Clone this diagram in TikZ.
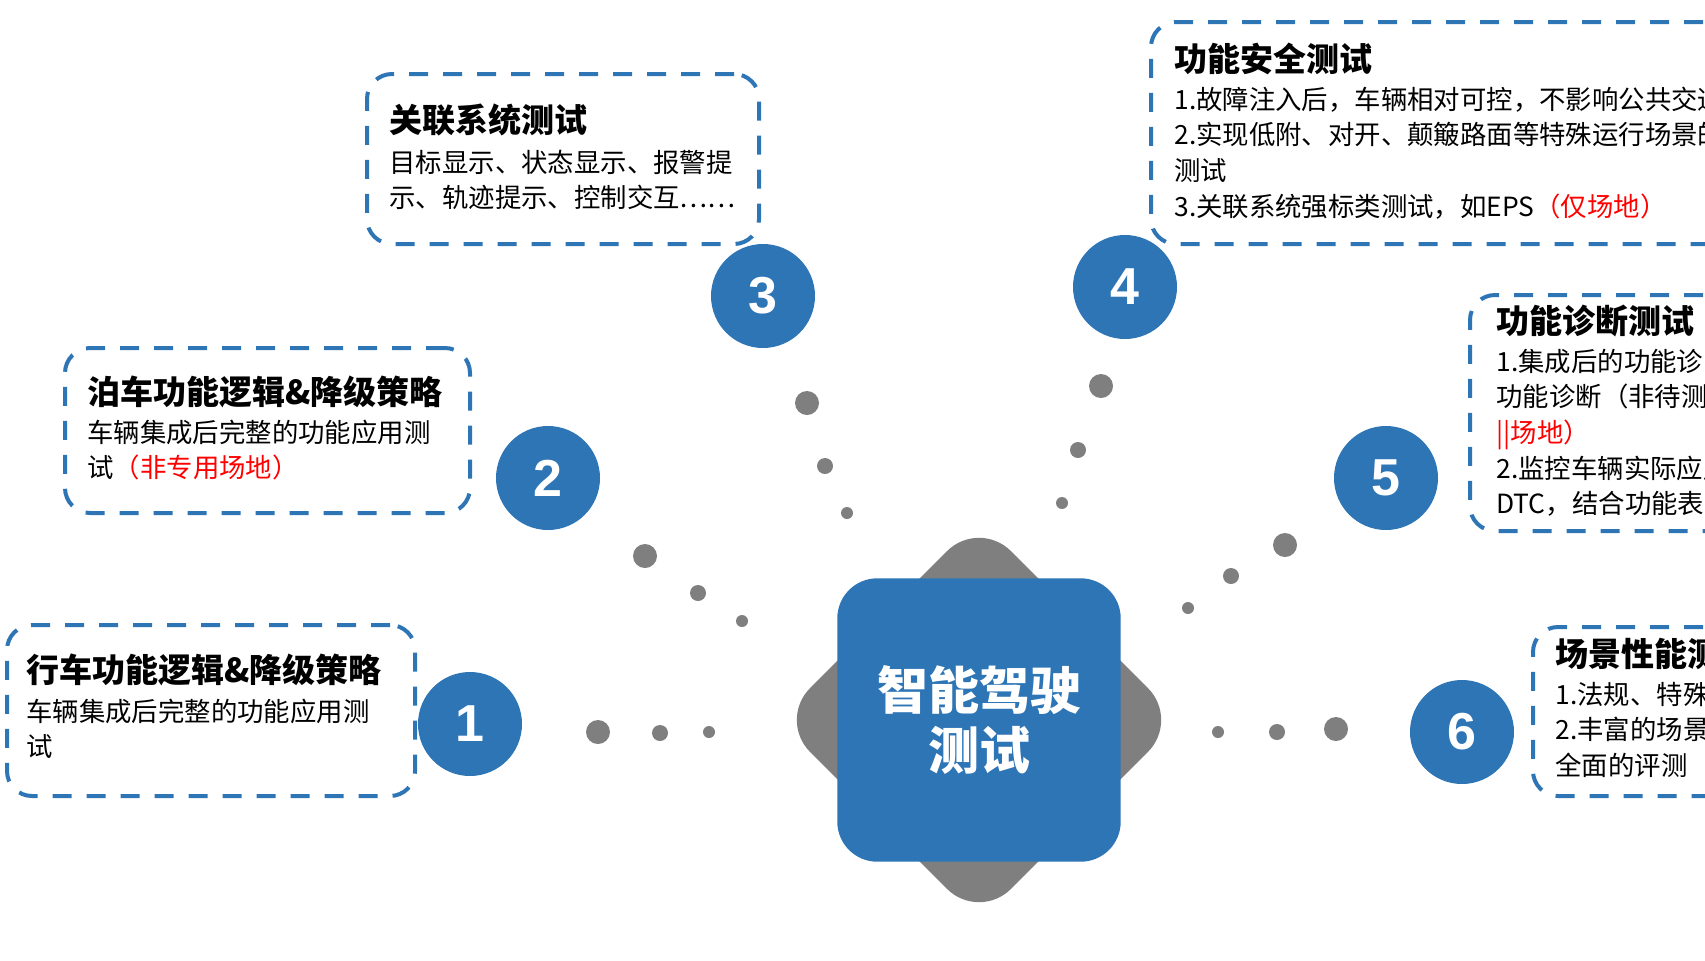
\documentclass[tikz,border=0pt]{standalone}
\usepackage{fontspec}
\setmainfont{Noto Sans CJK SC}
\newfontfamily\numfont{Liberation Sans}
\usepackage{tikz}
\usepackage{xcolor}
\usetikzlibrary{shapes.geometric, positioning}
\definecolor{mainblue}{RGB}{46,117,182}
\definecolor{dotgray}{RGB}{127,127,127}

\begin{document}
\begin{tikzpicture}[x=0.5pt, y=-0.5pt,
    tbox/.style={rectangle, draw=mainblue, line width=2pt, dash pattern=on 9.5pt off 7.5pt, rounded corners=12.5pt, inner sep=0pt, anchor=north west},
    ttl/.style={anchor=west, inner sep=0pt, font=\fontsize{16.5}{20}\selectfont\bfseries},
    txt/.style={anchor=north west, inner sep=0pt, align=left, font=\fontsize{13.2}{17.8}\selectfont},
    num/.style={circle, fill=mainblue, minimum size=52pt, inner sep=0pt, text=white, font=\numfont\fontsize{26}{26}\selectfont\bfseries},
    dot/.style={fill=dotgray}
]
    \useasboundingbox (0,0) rectangle (1705,960);
    \clip (0,0) rectangle (1705,960);

    % Hub
    \node[rectangle, fill=dotgray, rounded corners=22.5pt, minimum size=142pt, rotate=45] (hubbg) at (979,720) {};
    \node[rectangle, fill=mainblue, rounded corners=20pt, minimum size=141.7pt, text=white, align=center, font=\fontsize{25.5}{30}\selectfont\bfseries] (hub) at (979,720) {智能驾驶\\测试};

    % Dots
    \foreach \x/\y/\r in {598/732/6, 660/733/4, 709/732/3,
                          645/556/6, 698/593/4, 742/621/3,
                          807/403/6, 825/466/4, 847/513/3,
                          1101/386/6, 1078/450/4, 1062/503/3,
                          1285/545/6, 1231/576/4, 1188/608/3,
                          1336/729/6, 1277/732/4, 1218/732/3}
        \fill[dot] (\x,\y) circle (\r pt);

    % Numbers
    \node[num] (n1) at (470,724) {1};
    \node[num] (n2) at (548,478) {2};
    \node[num] (n3) at (763,296) {3};
    \node[num] (n4) at (1125,287) {4};
    \node[num] (n5) at (1386,478) {5};
    \node[num] (n6) at (1462,732) {6};

    % Box 1
    \node[tbox, minimum width=204pt, minimum height=85.5pt] (b1) at (5,623) {};
    \node[ttl] (t1) at (26,670) {行车功能逻辑\&降级策略};
    \node[txt] (d1) at (26,696) {\strut 车辆集成后完整的功能应用测\\试};

    % Box 2
    \node[tbox, minimum width=202.5pt, minimum height=82.5pt] (b2) at (63,346) {};
    \node[ttl] (t2) at (87,391.5) {泊车功能逻辑\&降级策略};
    \node[txt] (d2) at (87,417) {\strut 车辆集成后完整的功能应用测\\试\textcolor{red}{（非专用场地）}};

    % Box 3
    \node[tbox, minimum width=196pt, minimum height=85pt] (b3) at (365,72) {};
    \node[ttl] (t3) at (389,120) {关联系统测试};
    \node[txt] (d3) at (389,147) {\strut 目标显示、状态显示、报警提\\示、轨迹提示、控制交互……};

    % Box 4
    \node[tbox, minimum width=305.5pt, minimum height=111pt] (b4) at (1149,20) {};
    \node[ttl] (t4) at (1174,58.7) {功能安全测试};
    \node[txt] (d4) at (1174,84) {\strut 1.故障注入后，车辆相对可控，不影响公共交通\\2.实现低附、对开、颠簸路面等特殊运行场景的\\测试\\3.关联系统强标类测试，如EPS\textcolor{red}{（仅场地）}};

    % Box 5
    \node[tbox, minimum width=146pt, minimum height=118pt] (b5) at (1468,293) {};
    \node[ttl] (t5) at (1496,320.8) {功能诊断测试};
    \node[txt] (d5) at (1496,346) {\strut 1.集成后的功能诊断\\功能诊断（非待测件\\\textcolor{red}{||场地）}\\2.监控车辆实际应用\\DTC，结合功能表现};

    % Box 6
    \node[tbox, minimum width=114.5pt, minimum height=84.5pt] (b6) at (1531,625) {};
    \node[ttl] (t6) at (1555,653.5) {场景性能测试};
    \node[txt] (d6) at (1555,679) {\strut 1.法规、特殊场景\\2.丰富的场景库\\全面的评测\textcolor{red}{（仅场地）}};
\end{tikzpicture}
\end{document}
